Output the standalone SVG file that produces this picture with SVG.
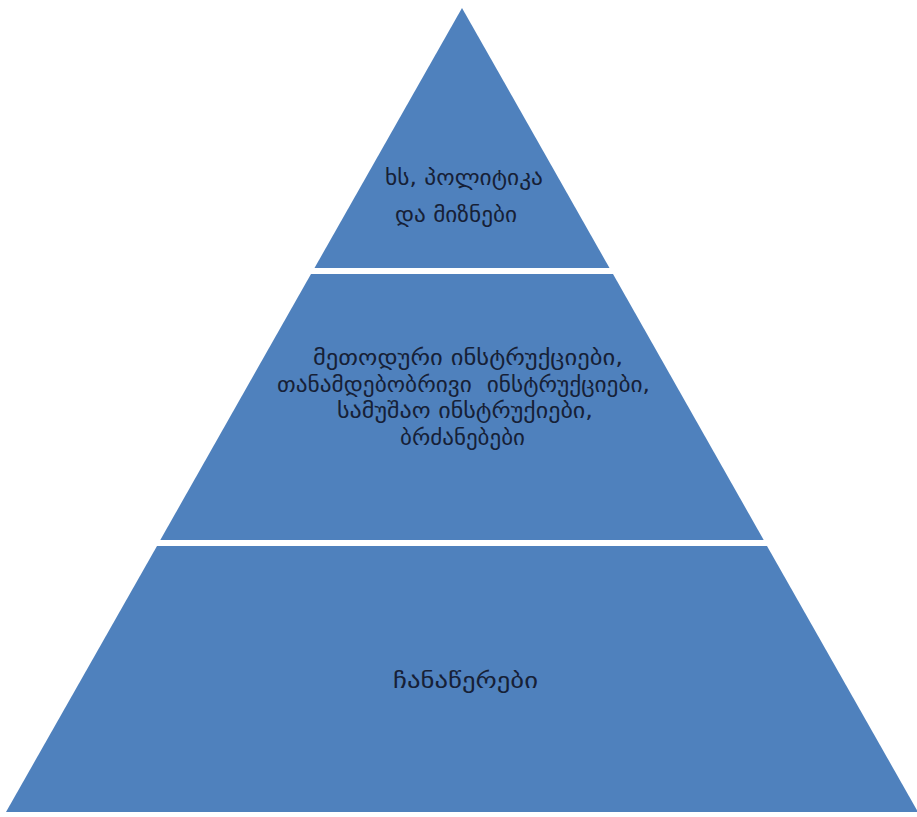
<svg xmlns="http://www.w3.org/2000/svg" width="917" height="817" viewBox="0 0 917 817">
<style>
.band{fill:#4F81BD;}
.t{font-family:"DejaVu Sans","Noto Sans",sans-serif;font-size:22px;fill:#162036;}
</style>
<rect width="917" height="817" fill="#ffffff"/>
<g id="top">
<polygon class="band" points="462,8 609.5,268 314.5,268"/>
<text class="t" x="385" y="185" textLength="158" lengthAdjust="spacingAndGlyphs">ხს, პოლიტიკა</text>
<text class="t" x="395" y="222" textLength="122" lengthAdjust="spacingAndGlyphs">და მიზნები</text>
</g>
<g id="middle">
<polygon class="band" points="311,274 613,274 763.7,540 160.3,540"/>
<text class="t" x="313" y="365" textLength="310" lengthAdjust="spacingAndGlyphs">მეთოდური ინსტრუქციები,</text>
<text class="t" x="277" y="391.5" textLength="373" lengthAdjust="spacingAndGlyphs" xml:space="preserve">თანამდებობრივი  ინსტრუქციები,</text>
<text class="t" x="337" y="418" textLength="256" lengthAdjust="spacingAndGlyphs">სამუშაო ინსტრუქიები,</text>
<text class="t" x="400" y="444.5" textLength="125" lengthAdjust="spacingAndGlyphs">ბრძანებები</text>
</g>
<g id="bottom">
<polygon class="band" points="157,546 767,546 918,812 6,812"/>
<text class="t" x="393" y="688" textLength="145" lengthAdjust="spacingAndGlyphs">ჩანაწერები</text>
</g>
<g id="connectors"></g>
</svg>
